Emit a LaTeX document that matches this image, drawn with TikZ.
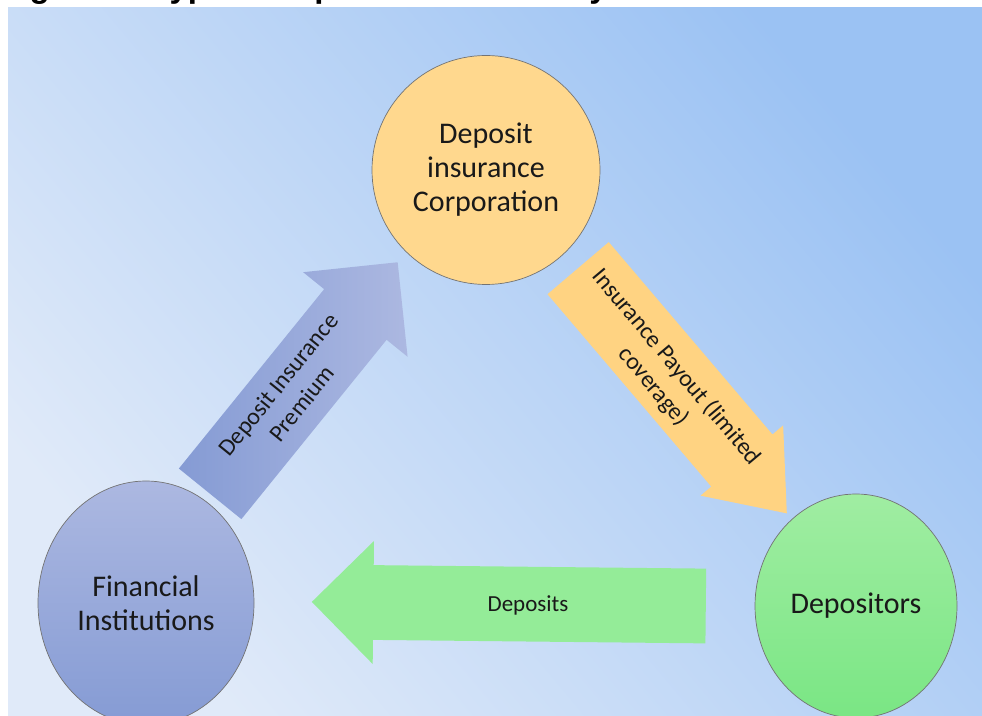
\documentclass[tikz,border=0pt]{standalone}
\usepackage{fontspec}
\setmainfont{Carlito}
\newfontfamily\titlefont{Liberation Sans}
\usetikzlibrary{%
  shapes.geometric,% ellipse
  shapes.arrows,% single arrow
  positioning%
}
\definecolor{panellight}{RGB}{224,234,249}
\definecolor{paneldark}{RGB}{155,194,243}
\definecolor{corpfill}{RGB}{255,216,142}
\definecolor{payfill}{RGB}{255,211,130}
\definecolor{instlight}{RGB}{172,184,225}
\definecolor{instdark}{RGB}{133,155,212}
\definecolor{deplight}{RGB}{160,237,162}
\definecolor{depdark}{RGB}{122,230,132}
\definecolor{depfill}{RGB}{148,236,152}

\begin{document}
\begin{tikzpicture}[x=1pt,y=1pt,
	party/.style={
	ellipse,inner sep=0pt,
	draw=black!55,line width=0.7pt,
	align=center,text=black!90,
	font=\fontsize{30}{34}\selectfont
	},flow/.style={
	single arrow,inner xsep=0pt,anchor=tail,
	single arrow head extend=#1,
	},flowtext/.style={
	align=center,text=black!90,inner sep=0pt,
	font=\fontsize{24}{30}\selectfont
	}
]
\useasboundingbox (0,0) rectangle (982,715);

% background panel and the cut title
\shade[top color=paneldark,bottom color=panellight,shading angle=-50]
	(8,0) rectangle (982,707);
\begin{scope}
\clip (0,0) rectangle (982,715);
\node (title) [anchor=base west,inner sep=0pt,font=\titlefont\bfseries\fontsize{33}{40}\selectfont]
	at (0,717) {Figure 1: Typical Deposit Insurance System};
\end{scope}

% block arrows, placed by their tails
\node (premium) [flow=27pt,inner ysep=40pt,minimum width=134pt,minimum height=298pt,
	rotate=51,left color=instdark,right color=instlight] at (210,221) {};
\node (payout) [flow=14pt,inner ysep=40pt,minimum width=107pt,minimum height=322pt,
	single arrow tip angle=76,rotate=-49.6,fill=payfill] at (578,447) {};
\node (deposits) [flow=24pt,inner ysep=37pt,minimum width=123pt,minimum height=394pt,
	rotate=179.4,fill=depfill] at (706,109) {};

\node (premiumtext) [flowtext,rotate=51] at (290,321) {Deposit Insurance\\Premium};
\node (payouttext) [flowtext,rotate=-50] at (665,338) {Insurance Payout (limited\\coverage)};
\node (depositstext) [flowtext,font=\fontsize{23}{28}\selectfont] at (528,110) {Deposits};

% the three parties
\node (corp) [party,minimum width=228pt,minimum height=229pt,fill=corpfill]
	at (486,545) {Deposit\\insurance\\Corporation};
\node (inst) [party,minimum width=216pt,minimum height=244pt,
	top color=instlight,bottom color=instdark] at (146,112) {Financial\\Institutions};
\node (depositors) [party,minimum width=202pt,minimum height=224pt,
	top color=deplight,bottom color=depdark] at (856,109) {Depositors};

\end{tikzpicture}
\end{document}
